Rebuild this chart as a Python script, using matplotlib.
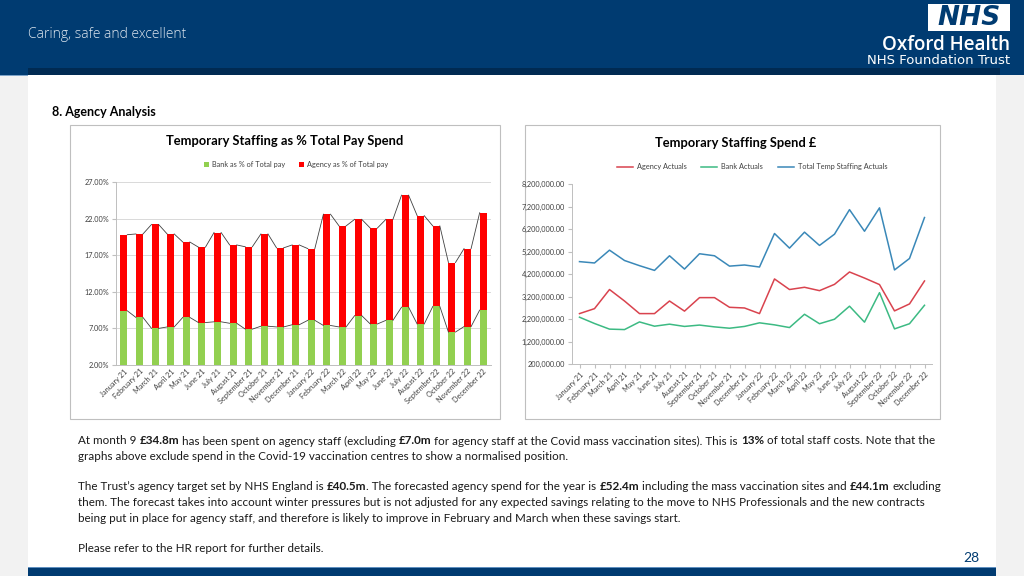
import matplotlib.pyplot as plt
import matplotlib.patches as mpatches
from matplotlib.ticker import FuncFormatter
import numpy as np

months = ['January 21', 'February 21', 'March 21', 'April 21', 'May 21', 'June 21',
          'July 21', 'August 21', 'September 21', 'October 21', 'November 21', 'December 21',
          'January 22', 'February 22', 'March 22', 'April 22', 'May 22', 'June 22',
          'July 22', 'August 22', 'September 22', 'October 22', 'November 22', 'December 22']

# % of total pay
bank_pct = [9.4, 8.5, 7.0, 7.2, 8.5, 7.8, 7.9, 7.7, 6.9, 7.3, 7.2, 7.5,
            8.1, 7.4, 7.2, 8.75, 7.6, 8.1, 9.9, 7.6, 10.0, 6.5, 7.25, 9.5]
agency_pct = [10.4, 11.4, 14.2, 12.7, 10.3, 10.3, 12.2, 10.7, 11.25, 12.6, 10.8, 10.9,
              9.8, 15.2, 13.8, 13.15, 13.1, 13.8, 15.3, 14.8, 11.0, 9.5, 10.65, 13.3]

# spend in £
agency_spend = [2440000, 2660000, 3510000, 3000000, 2440000, 2440000, 3000000, 2550000,
                3150000, 3150000, 2720000, 2690000, 2440000, 3980000, 3510000, 3610000,
                3460000, 3740000, 4290000, 4020000, 3730000, 2560000, 2870000, 3890000]
bank_spend = [2280000, 2000000, 1750000, 1730000, 2070000, 1880000, 1970000, 1870000,
              1930000, 1850000, 1790000, 1870000, 2030000, 1940000, 1820000, 2410000,
              1990000, 2190000, 2770000, 2060000, 3370000, 1760000, 1990000, 2810000]
total_spend = [4750000, 4690000, 5260000, 4800000, 4570000, 4360000, 5010000, 4420000,
               5100000, 5010000, 4550000, 4600000, 4510000, 6000000, 5350000, 6060000,
               5470000, 5970000, 7060000, 6100000, 7140000, 4380000, 4890000, 6710000]

FONT = 'Lato'
NAVY = '#003b71'
W, H = 1024, 576

fig = plt.figure(figsize=(W / 100, H / 100), dpi=100)
fig.patch.set_facecolor('#f2f2f2')

bg = fig.add_axes([0, 0, 1, 1])
bg.set_xlim(0, W)
bg.set_ylim(H, 0)
bg.axis('off')


def box(x, y, w, h, **kw):
  bg.add_patch(mpatches.Rectangle((x, y), w, h, **kw))


def frac(x0, y0, x1, y1):
  return [x0 / W, 1 - y1 / H, (x1 - x0) / W, (y1 - y0) / H]


# slide furniture
box(28, 75, 968, 493, facecolor='white', edgecolor='none')
box(0, 0, W, 68, facecolor=NAVY, edgecolor='none')
box(0, 68, W, 7, facecolor=NAVY, edgecolor='none')
box(28, 68, 972, 7, facecolor='#002a52', edgecolor='none')
box(0, 74.5, 28, 1.2, facecolor='#7da3c8', edgecolor='none')
box(28, 567, 968, 9, facecolor=NAVY, edgecolor='none')
box(28, 566.5, 968, 1.2, facecolor='#5f8fbf', edgecolor='none')

bg.text(28, 34, 'Caring, safe and excellent', color='#dfe7f0', fontsize=10,
        family='Open Sans', fontweight='light', va='center', ha='left')
box(928, 4, 82, 27, facecolor='white', edgecolor='none')
bg.text(969, 18, 'NHS', color=NAVY, fontsize=19, fontweight='heavy', style='italic',
        family='DejaVu Sans', va='center', ha='center')
bg.text(1010, 45, 'Oxford Health', color='white', fontsize=13.5, fontweight='semibold',
        family='Open Sans', va='center', ha='right')
bg.text(1010, 61, 'NHS Foundation Trust', color='white', fontsize=9.5,
        family='DejaVu Sans', va='center', ha='right')

bg.text(52, 112, '8. Agency Analysis', fontsize=9, fontweight='bold', family=FONT,
        va='center', ha='left', color='black')
bg.text(971, 558, '28', fontsize=10, family=FONT, color=NAVY, va='center', ha='center')

# chart frames
box(70, 125, 430, 294, facecolor='white', edgecolor='#bfbfbf', lw=0.8)
box(525, 125, 415, 294, facecolor='white', edgecolor='#bfbfbf', lw=0.8)

x = np.arange(len(months))
tick_kw = dict(fontsize=5.3, family=FONT, color='#404040')

# left: stacked bars
ax1 = fig.add_axes(frac(116, 182, 491, 365))
bw = 0.45
bank_arr = np.array(bank_pct)
top_arr = bank_arr + np.array(agency_pct)
ax1.bar(x, bank_pct, width=bw, color='#92d050', label='Bank as % of Total pay', zorder=3)
ax1.bar(x, agency_pct, width=bw, bottom=bank_pct, color='#ff0000',
        label='Agency as % of Total pay', zorder=3)
for vals in (bank_arr, top_arr):
  for i in range(len(x) - 1):
    ax1.plot([x[i] + bw / 2, x[i + 1] - bw / 2], [vals[i], vals[i + 1]],
             color='#404040', lw=0.6, zorder=4)
ax1.set_xlim(-0.5, len(x) - 0.5)
ax1.set_ylim(2, 27)
ax1.set_yticks(np.arange(2, 28, 5))
ax1.yaxis.set_major_formatter(FuncFormatter(lambda v, p: '%.2f%%' % v))
ax1.grid(axis='y', color='#d9d9d9', lw=0.7, zorder=0)
ax1.set_xticks(x)
ax1.set_xticklabels(months, rotation=45, ha='right', rotation_mode='anchor', **tick_kw)
for lbl in ax1.get_yticklabels():
  lbl.set(**tick_kw)
for s in ['top', 'right']:
  ax1.spines[s].set_visible(False)
for s in ['left', 'bottom']:
  ax1.spines[s].set_color('#bfbfbf')
  ax1.spines[s].set_linewidth(0.7)
ax1.tick_params(axis='x', length=0, pad=2)
ax1.tick_params(axis='y', length=3, color='#bfbfbf', pad=2)
ax1.legend(loc='lower center', bbox_to_anchor=(0.48, 1.04), ncol=2, frameon=False,
           prop={'family': FONT, 'size': 5.3}, handlelength=0.6, handleheight=0.6,
           columnspacing=2.0, handletextpad=0.4, labelcolor='#404040')
bg.text(285, 141, 'Temporary Staffing as % Total Pay Spend', fontsize=9.3,
        fontweight='bold', family=FONT, va='center', ha='center', color='black')

# right: lines
ax2 = fig.add_axes(frac(572, 184, 932, 364))
ax2.plot(x, agency_spend, color='#d9434e', lw=1.1, label='Agency Actuals')
ax2.plot(x, bank_spend, color='#3cba83', lw=1.1, label='Bank Actuals')
ax2.plot(x, total_spend, color='#3a88b8', lw=1.1, label='Total Temp Staffing Actuals')
ax2.set_xlim(-0.5, len(x) - 0.5)
ax2.set_ylim(200000, 8200000)
ax2.set_yticks(np.arange(200000, 8200001, 1000000))
ax2.yaxis.set_major_formatter(FuncFormatter(lambda v, p: '{:,.2f}'.format(v)))
ax2.set_xticks(x)
ax2.set_xticklabels(months, rotation=45, ha='right', rotation_mode='anchor', **tick_kw)
for lbl in ax2.get_yticklabels():
  lbl.set(**tick_kw)
for s in ['top', 'right']:
  ax2.spines[s].set_visible(False)
for s in ['left', 'bottom']:
  ax2.spines[s].set_color('#bfbfbf')
  ax2.spines[s].set_linewidth(0.7)
ax2.tick_params(axis='x', length=3, color='#bfbfbf', pad=2)
ax2.tick_params(axis='y', length=3, color='#bfbfbf', pad=2)
ax2.legend(loc='lower center', bbox_to_anchor=(0.5, 1.04), ncol=3, frameon=False,
           prop={'family': FONT, 'size': 5.3}, handlelength=2.2, columnspacing=2.0,
           handletextpad=0.5, labelcolor='#404040')
bg.text(736, 143, 'Temporary Staffing Spend £', fontsize=9.3, fontweight='bold',
        family=FONT, va='center', ha='center', color='black')

# body text with bold runs
renderer = fig.canvas.get_renderer()
BODY = 8.4


def width_of(s, bold=False):
  t = bg.text(0, 0, s, fontsize=BODY, family=FONT, fontweight='bold' if bold else 'normal')
  w = t.get_window_extent(renderer).width
  t.remove()
  return w


space_w = width_of('a a') - width_of('aa')


def runs(x0, y0, parts):
  xx = x0
  for s, bold, sp in parts:
    t = bg.text(xx, y0, s, fontsize=BODY, family=FONT, va='center', ha='left',
                fontweight='bold' if bold else 'normal', color='#1a1a1a')
    xx += t.get_window_extent(renderer).width + (space_w if sp else 0)


lines = [
  (441, [('At month 9', 0, 1), ('£34.8m', 1, 1),
         ('has been spent on agency staff (excluding', 0, 1), ('£7.0m', 1, 1),
         ('for agency staff at the Covid mass vaccination sites). This is', 0, 1),
         ('13%', 1, 1), ('of total staff costs. Note that the', 0, 0)]),
  (456, [('graphs above exclude spend in the Covid-19 vaccination centres to show a normalised position.', 0, 0)]),
  (486, [('The Trust\u2019s agency target set by NHS England is', 0, 1), ('£40.5m', 1, 0),
         ('. The forecasted agency spend for the year is', 0, 1), ('£52.4m', 1, 1),
         ('including the mass vaccination sites and', 0, 1), ('£44.1m', 1, 1),
         ('excluding', 0, 0)]),
  (502, [('them. The forecast takes into account winter pressures but is not adjusted for any expected savings relating to the move to NHS Professionals and the new contracts', 0, 0)]),
  (518, [('being put in place for agency staff, and therefore is likely to improve in February and March when these savings start.', 0, 0)]),
  (548, [('Please refer to the HR report for further details.', 0, 0)]),
]
for yy, parts in lines:
  runs(78, yy, parts)

fig.savefig('out.png', dpi=100, facecolor=fig.get_facecolor())
